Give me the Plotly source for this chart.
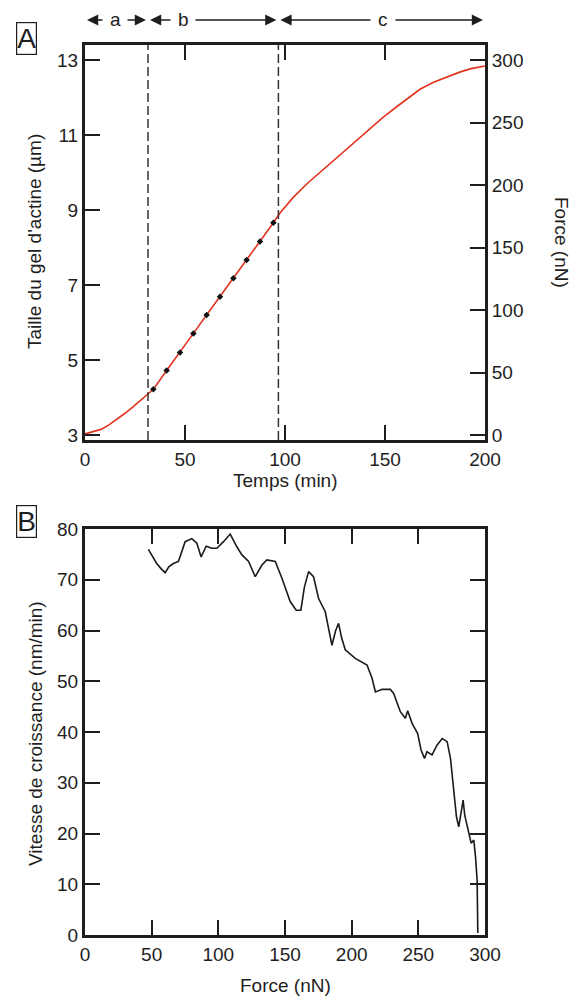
import plotly.graph_objects as go

# Panel A: actin gel size vs time (red curve)
time_min = [0, 4, 8, 12, 16, 20, 24, 28, 31.5, 34.2, 40.8, 47.5, 54.2, 60.8, 67.5, 74.2,
            80.8, 87.5, 94.2, 97.5, 104, 111, 119, 128, 136, 143, 149, 156, 162, 167.5,
            174, 181, 187, 193, 200]
gel_size = [3.03, 3.08, 3.15, 3.27, 3.42, 3.58, 3.75, 3.93, 4.08, 4.22, 4.72, 5.20, 5.71,
            6.20, 6.69, 7.18, 7.67, 8.16, 8.66, 8.92, 9.33, 9.70, 10.07, 10.50, 10.88, 11.20,
            11.47, 11.76, 12.00, 12.22, 12.40, 12.55, 12.67, 12.77, 12.84]

# black marks placed on the curve during phase b
mark_time = [34.2, 40.8, 47.5, 54.2, 60.8, 67.5, 74.2, 80.8, 87.5, 94.2]
mark_size = [4.22, 4.72, 5.20, 5.71, 6.20, 6.69, 7.18, 7.67, 8.16, 8.66]

# phase boundaries (min) and labels
phase_bounds = [0, 31.5, 96.7, 200]
phase_labels = ["a", "b", "c"]
phase_label_pos = [15, 49, 149]

# Panel B: growth speed vs force
force_B = [47.5, 50, 53.8, 57, 60.1, 63, 66.3, 70.1, 72.5, 75.1, 80.1, 83.9, 87.1, 90.9,
           95.1, 98.9, 103.9, 108.9, 113.9, 117.7, 122.7, 127.7, 132.7, 136.4, 142.7, 147.7,
           153.9, 158.4, 161.9, 164.5, 167.7, 171.4, 175.2, 180.2, 185.2, 188, 190.2, 192.5,
           195.2, 202.7, 211.5, 215.3, 217.8, 222.8, 229, 231.5, 236.5, 240.3, 242, 245.3,
           249.5, 252, 254.6, 256.5, 260.3, 264, 267.9, 271.6, 274.1, 275.3, 277.1, 278.6,
           280.3, 282.1, 283.6, 284.8, 286.6, 287.8, 289.6, 291.6, 292.9, 294.1, 294.6]
speed_B = [76.0, 74.8, 73.2, 72.2, 71.4, 72.6, 73.2, 73.6, 75.5, 77.5, 78.1, 77.2, 74.5, 76.6,
           76.2, 76.2, 77.5, 79.0, 76.5, 74.9, 73.6, 70.6, 72.9, 73.9, 73.6, 70.3,
           65.7, 64.0, 64.0, 68.5, 71.6, 70.6, 66.3, 63.7, 57.1, 60.0, 61.4, 58.5,
           56.2, 54.5, 53.2, 50.6, 47.9, 48.4, 48.4, 47.6, 44.0, 42.7, 44.2, 41.7,
           39.7, 36.5, 34.8, 36.1, 35.5, 37.4, 38.7, 38.1, 34.8, 31.8, 26.6, 23.3,
           21.3, 24.0, 26.6, 23.6, 21.7, 20.0, 18.1, 18.7, 15.4, 10.8, 0.4]

W, H = 571, 999
FONT = "Liberation Sans, Arial, sans-serif"
INK = "#1e1e1e"
FS = 19


def px_x(p):
    return p / W


def px_y(p):
    return 1 - p / H


fig = go.Figure()

fig.add_trace(go.Scatter(x=time_min, y=gel_size, mode="lines",
                         line=dict(color="#e2331f", width=1.6), showlegend=False))
fig.add_trace(go.Scatter(x=mark_time, y=mark_size, mode="markers",
                         marker=dict(color="#111", size=5, symbol="diamond"), showlegend=False))
# dummy trace so the right-hand force axis is drawn
fig.add_trace(go.Scatter(x=[None], y=[None], yaxis="y2", showlegend=False))
fig.add_trace(go.Scatter(x=force_B, y=speed_B, mode="lines", xaxis="x2", yaxis="y3",
                         line=dict(color="#1a1a1a", width=1.6), showlegend=False))

axis_common = dict(showline=True, linewidth=3, linecolor=INK, ticks="inside", ticklen=15,
                   tickwidth=2, tickcolor=INK, showgrid=False, zeroline=False, automargin=False,
                   tickfont=dict(family=FONT, size=FS, color=INK))

fig.update_layout(
    width=W, height=H, margin=dict(l=0, r=0, t=0, b=0, autoexpand=False),
    paper_bgcolor="white", plot_bgcolor="white",
    font=dict(family=FONT, color=INK),
    xaxis=dict(domain=[px_x(85), px_x(485)], anchor="y", range=[0, 200],
               tickvals=[0, 50, 100, 150, 200], mirror="ticks", **axis_common),
    yaxis=dict(domain=[px_y(440), px_y(45)], anchor="x", range=[2.867, 13.4],
               tickvals=[3, 5, 7, 9, 11, 13], **axis_common),
    yaxis2=dict(overlaying="y", anchor="x", side="right", range=[-4, 312],
                tickvals=[0, 50, 100, 150, 200, 250, 300], **axis_common),
    xaxis2=dict(domain=[px_x(85), px_x(485)], anchor="y3", range=[0, 300],
                tickvals=[0, 50, 100, 150, 200, 250, 300], mirror="ticks", **axis_common),
    yaxis3=dict(domain=[px_y(935), px_y(529)], anchor="x2", range=[0, 80],
                tickvals=list(range(0, 81, 10)), mirror="ticks", **axis_common),
)

# dashed phase boundaries
for b in phase_bounds[1:-1]:
    fig.add_shape(type="line", xref="x", yref="y domain", x0=b, x1=b, y0=0, y1=1,
                  line=dict(color="#333", width=1.5, dash="9px,4px"))

# phase arrows above panel A
arrow_y = px_y(20)
for (start, end), lab, pos in zip(zip(phase_bounds[:-1], phase_bounds[1:]), phase_labels, phase_label_pos):
    fig.add_annotation(x=pos, y=arrow_y, xref="x", yref="paper", text=lab, showarrow=False,
                       xanchor="center", yanchor="middle", font=dict(family=FONT, size=FS, color=INK))
    for tip, tail in [(start + 1, pos - 5.5), (end - 1, pos + 5.5)]:
        fig.add_annotation(x=tip, y=arrow_y, xref="x", yref="paper", axref="x", ax=tail, ay=0,
                           text="", showarrow=True, arrowhead=2, arrowsize=1.4,
                           arrowwidth=1.6, arrowcolor=INK)

title_font = dict(family=FONT, size=FS, color=INK)
titles = [
    (0.5, "x domain", px_y(481), "Temps (min)", 0),
    (px_x(35), "paper", px_y(242), "Taille du gel d'actine (µm)", -90),
    (px_x(561), "paper", px_y(242), "Force (nN)", 90),
    (0.5, "x2 domain", px_y(985), "Force (nN)", 0),
    (px_x(35), "paper", px_y(734), "Vitesse de croissance (nm/min)", -90),
]
for x, xref, y, txt, ang in titles:
    fig.add_annotation(x=x, y=y, xref=xref, yref="paper", text=txt, textangle=ang,
                       showarrow=False, xanchor="center", yanchor="middle", font=title_font)

# boxed panel letters
for lab, yc in [("A", 38), ("B", 521)]:
    fig.add_annotation(x=px_x(26), y=px_y(yc), xref="paper", yref="paper", text=lab,
                       showarrow=False, xanchor="center", yanchor="middle",
                       font=dict(family=FONT, size=28, color=INK),
                       bordercolor=INK, borderwidth=1.2, borderpad=0, bgcolor="white")

fig.write_html("out.html", config={"displayModeBar": False},
               post_script="document.body.style.margin='0';")
